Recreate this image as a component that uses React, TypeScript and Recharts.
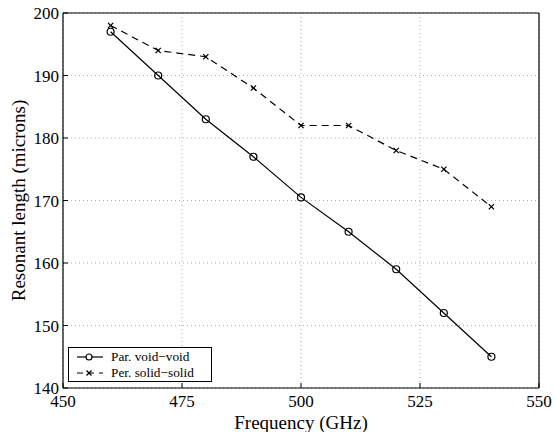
import { LineChart, Line, XAxis, YAxis, CartesianGrid, Label } from "recharts";

const frequencies = [460, 470, 480, 490, 500, 510, 520, 530, 540];
const parVoidVoid = [197, 190, 183, 177, 170.5, 165, 159, 152, 145];
const perSolidSolid = [198, 194, 193, 188, 182, 182, 178, 175, 169];
const xTicks = [450, 475, 500, 525, 550];
const yTicks = [140, 150, 160, 170, 180, 190, 200];

const data = frequencies.map((f, i) => ({
  freq: f,
  par: parVoidVoid[i],
  per: perSolidSolid[i],
}));

const FONT = '"Liberation Serif", "Times New Roman", serif';

const CircleDot = (props: { cx?: number; cy?: number; index?: number }) => {
  const { cx, cy, index } = props;
  if (cx == null || cy == null) return <g key={index} />;
  return <circle key={index} cx={cx} cy={cy} r={3.5} fill="none" stroke="#000" strokeWidth={1.2} />;
};

const CrossDot = (props: { cx?: number; cy?: number; index?: number }) => {
  const { cx, cy, index } = props;
  if (cx == null || cy == null) return <g key={index} />;
  const s = 2.6;
  return (
    <g key={index} stroke="#000" strokeWidth={1.3}>
      <line x1={cx - s} y1={cy - s} x2={cx + s} y2={cy + s} />
      <line x1={cx - s} y1={cy + s} x2={cx + s} y2={cy - s} />
    </g>
  );
};

// legend box sits inside the plot, bottom-left
const LegendBox = () => (
  <div
    style={{
      position: "absolute",
      left: 68,
      top: 347,
      width: 144,
      height: 35,
      border: "1px solid #000",
      background: "#fff",
      boxSizing: "border-box",
      padding: "1px 0 0 6px",
      fontFamily: FONT,
      fontSize: 13.3,
      lineHeight: "16px",
      color: "#000",
    }}
  >
    <div style={{ display: "flex", alignItems: "center", height: 16 }}>
      <svg width={30} height={12} style={{ marginRight: 6 }}>
        <line x1={2} y1={6} x2={28} y2={6} stroke="#000" strokeWidth={1.2} />
        <circle cx={14} cy={6} r={3} fill="#fff" stroke="#000" strokeWidth={1.2} />
      </svg>
      Par. void−void
    </div>
    <div style={{ display: "flex", alignItems: "center", height: 16 }}>
      <svg width={30} height={12} style={{ marginRight: 6 }}>
        <line x1={2} y1={6} x2={28} y2={6} stroke="#000" strokeWidth={1.2} strokeDasharray="6 5" />
        <g stroke="#000" strokeWidth={1.3}>
          <line x1={11.5} y1={3.5} x2={16.5} y2={8.5} />
          <line x1={11.5} y1={8.5} x2={16.5} y2={3.5} />
        </g>
      </svg>
      Per. solid−solid
    </div>
  </div>
);

const tickStyle = { fontSize: 17, fill: "#000", fontFamily: FONT };

export default function App() {
  return (
    <div style={{ position: "absolute", left: 0, top: 0, width: 555, height: 432, background: "#fff", fontFamily: FONT }}>
      <LineChart width={555} height={432} data={data} margin={{ top: 12, right: 15, left: 0, bottom: 0 }}>
        <CartesianGrid xAxisId="b" yAxisId="l" stroke="#999" strokeDasharray="1 3" strokeWidth={0.8} />
        <XAxis
          xAxisId="b"
          dataKey="freq"
          type="number"
          domain={[450, 550]}
          ticks={xTicks}
          height={44}
          tickSize={-5}
          tickMargin={12}
          tick={tickStyle}
          axisLine={{ stroke: "#000", strokeWidth: 1.2 }}
          tickLine={{ stroke: "#000" }}
        >
          <Label value="Frequency (GHz)" position="insideBottom" offset={3} style={{ fontSize: 19, fill: "#000", fontFamily: FONT }} />
        </XAxis>
        <XAxis
          xAxisId="t"
          orientation="top"
          dataKey="freq"
          type="number"
          domain={[450, 550]}
          ticks={xTicks}
          height={1}
          tickSize={-5}
          tick={false}
          axisLine={{ stroke: "#000", strokeWidth: 1.2 }}
          tickLine={{ stroke: "#000" }}
        />
        <YAxis
          yAxisId="l"
          type="number"
          domain={[140, 200]}
          ticks={yTicks}
          width={63}
          tickSize={-5}
          tickMargin={9}
          tick={tickStyle}
          axisLine={{ stroke: "#000", strokeWidth: 1.2 }}
          tickLine={{ stroke: "#000" }}
        >
          <Label
            value="Resonant length (microns)"
            angle={-90}
            position="insideLeft"
            offset={18}
            style={{ fontSize: 19, fill: "#000", fontFamily: FONT, textAnchor: "middle" }}
          />
        </YAxis>
        <YAxis
          yAxisId="r"
          orientation="right"
          type="number"
          domain={[140, 200]}
          ticks={yTicks}
          width={1}
          tickSize={-5}
          tick={false}
          axisLine={{ stroke: "#000", strokeWidth: 1.2 }}
          tickLine={{ stroke: "#000" }}
        />
        <Line
          xAxisId="b"
          yAxisId="l"
          dataKey="par"
          stroke="#000"
          strokeWidth={1.2}
          dot={<CircleDot />}
          activeDot={false}
          isAnimationActive={false}
        />
        <Line
          xAxisId="t"
          yAxisId="r"
          dataKey="per"
          stroke="#000"
          strokeWidth={1.2}
          strokeDasharray="7 5"
          dot={<CrossDot />}
          activeDot={false}
          isAnimationActive={false}
        />
      </LineChart>
      <LegendBox />
    </div>
  );
}
